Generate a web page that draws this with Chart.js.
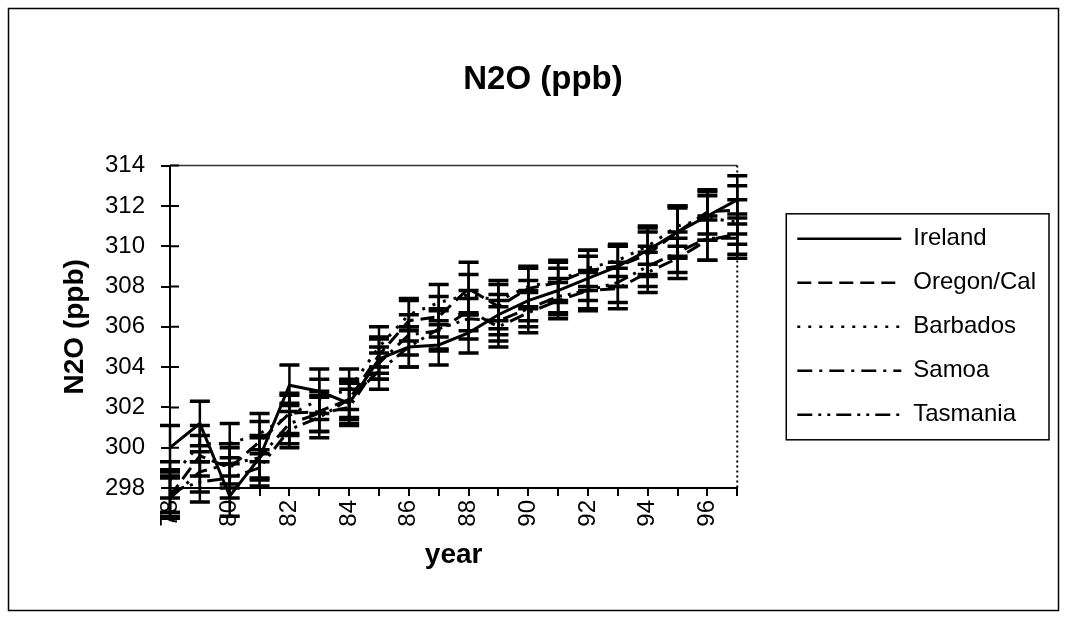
<!DOCTYPE html>
<html>
<head>
<meta charset="utf-8">
<script src="https://cdn.jsdelivr.net/npm/chart.js@4.4.0/dist/chart.umd.min.js"></script>
<style>
  html, body { margin: 0; padding: 0; background: #fff; }
  #wrap { width: 1067px; height: 622px; }
</style>
</head>
<body>
<div id="wrap"><canvas id="n2oChart" width="1067" height="622"></canvas></div>
<script>
const years = ["78", "79", "80", "81", "82", "83", "84", "85", "86", "87",
  "88", "89", "90", "91", "92", "93", "94", "95", "96", "97"];

// N2O (ppb) by station
const ireland  = [300.0, 301.2, 297.6, 299.5, 303.1, 302.8, 302.2, 304.4, 305.0, 305.1,
  305.7, 306.6, 307.3, 307.8, 308.4, 309.0, 309.8, 310.7, 311.5, 312.3];
const oregon   = [297.6, 299.6, 299.0, 300.3, 301.7, 301.8, 302.4, 304.6, 306.3, 306.5,
  307.9, 307.0, 307.9, 308.2, 308.8, 309.0, 309.6, 310.7, 311.7, 311.8];
const barbados = [298.4, 300.2, 300.2, 300.7, 301.6, 302.4, 302.9, 305.0, 306.6, 307.2,
  307.6, 307.3, 308.0, 308.3, 308.9, 309.3, 310.0, 311.0, 311.4, 311.2];
const samoa    = [297.5, 298.8, 299.2, 299.5, 301.2, 301.7, 302.0, 304.2, 305.6, 305.8,
  306.8, 306.0, 306.7, 307.3, 307.8, 307.9, 308.7, 309.4, 310.3, 310.6];
const tasmania = [297.8, 298.3, 298.5, 299.0, 300.9, 301.5, 302.4, 303.8, 305.0, 305.9,
  306.4, 306.3, 306.9, 307.5, 307.8, 308.2, 309.0, 309.7, 310.4, 310.4];

// error bar half-lengths
const irelandErr  = [1.1, 1.1, 1.0, 1.1, 1.0, 1.1, 1.0, 1.0, 1.0, 1.0, 1.0, 1.0, 1.0, 1.1, 1.1, 1.0, 1.2, 1.3, 1.2, 1.2];
const oregonErr   = [1.0, 1.0, 1.0, 1.0, 1.0, 1.0, 1.0, 0.9, 1.0, 1.0, 1.3, 1.1, 1.0, 1.0, 1.0, 1.0, 1.1, 1.2, 1.1, 1.2];
const barbadosErr = [0.9, 0.9, 1.0, 1.0, 1.0, 1.0, 1.0, 1.0, 0.8, 0.9, 1.0, 1.0, 1.0, 1.0, 0.9, 0.8, 0.9, 1.0, 1.1, 1.1];
const samoaErr    = [1.0, 1.0, 1.0, 1.0, 1.0, 0.9, 0.9, 0.8, 1.0, 1.0, 1.0, 1.0, 1.0, 0.9, 0.9, 1.0, 1.0, 1.0, 1.0, 1.0];
const tasmaniaErr = [1.0, 1.0, 1.0, 0.9, 0.9, 1.0, 0.9, 0.9, 1.0, 1.0, 1.0, 1.0, 0.9, 0.9, 1.0, 1.0, 1.0, 1.0, 1.1, 1.0];

const yTicks = [298, 314, 2]; // min, max, step

const FONT = "'Liberation Sans', Arial, sans-serif";

function series(label, data, errors, dash) {
  return {
    label: label,
    data: data,
    errors: errors,
    borderColor: "#000",
    backgroundColor: "#000",
    borderWidth: 3,
    borderDash: dash,
    pointRadius: 0,
    pointStyle: "line",
    fill: false,
    tension: 0,
    clip: false,
  };
}

// error bars drawn through the y scale
const errorBars = {
  id: "errorBars",
  afterDatasetsDraw(chart) {
    const ctx = chart.ctx;
    const yScale = chart.scales.y;
    ctx.save();
    ctx.strokeStyle = "#000";
    ctx.setLineDash([]);
    chart.data.datasets.forEach((ds, i) => {
      const meta = chart.getDatasetMeta(i);
      meta.data.forEach((pt, j) => {
        const top = yScale.getPixelForValue(ds.data[j] + ds.errors[j]);
        const bot = yScale.getPixelForValue(ds.data[j] - ds.errors[j]);
        ctx.lineWidth = 2.5;
        ctx.beginPath();
        ctx.moveTo(pt.x, top);
        ctx.lineTo(pt.x, bot);
        ctx.stroke();
        ctx.lineWidth = 3.5;
        ctx.beginPath();
        ctx.moveTo(pt.x - 10, top);
        ctx.lineTo(pt.x + 10, top);
        ctx.moveTo(pt.x - 10, bot);
        ctx.lineTo(pt.x + 10, bot);
        ctx.stroke();
      });
    });
    ctx.restore();
  },
};

// white background, outer frame, plot border, inner tick marks, legend box
const frame = {
  id: "frame",
  beforeDraw(chart) {
    const ctx = chart.ctx;
    ctx.save();
    ctx.fillStyle = "#fff";
    ctx.fillRect(0, 0, chart.width, chart.height);
    ctx.strokeStyle = "#000";
    ctx.lineWidth = 1.5;
    ctx.strokeRect(8.5, 8.5, chart.width - 17, chart.height - 20);
    const a = chart.chartArea;
    ctx.strokeStyle = "#333";
    ctx.lineWidth = 1.5;
    ctx.beginPath();
    ctx.moveTo(a.left, a.top);
    ctx.lineTo(a.right, a.top);
    ctx.stroke();
    ctx.strokeStyle = "#000";
    ctx.lineWidth = 2;
    ctx.setLineDash([2, 3]);
    ctx.beginPath();
    ctx.moveTo(a.right, a.top);
    ctx.lineTo(a.right, a.bottom);
    ctx.stroke();
    ctx.restore();
  },
  afterDatasetsDraw(chart) {
    const ctx = chart.ctx;
    const a = chart.chartArea;
    const yScale = chart.scales.y;
    ctx.save();
    ctx.strokeStyle = "#000";
    ctx.lineWidth = 2;
    ctx.beginPath();
    yScale.ticks.forEach((t) => {
      const y = yScale.getPixelForValue(t.value);
      ctx.moveTo(a.left, y);
      ctx.lineTo(a.left + 9, y);
    });
    ctx.stroke();
    ctx.restore();
  },
  afterDraw(chart) {
    const boxes = chart.legend.legendHitBoxes;
    if (!boxes || !boxes.length) return;
    const ctx = chart.ctx;
    const first = boxes[0];
    const last = boxes[boxes.length - 1];
    const right = Math.max(...boxes.map(b => b.left + b.width));
    ctx.save();
    ctx.strokeStyle = "#000";
    ctx.lineWidth = 1.5;
    ctx.strokeRect(first.left - 11, first.top - 13, right - first.left + 24, last.top + last.height + 13 - (first.top - 13));
    ctx.restore();
  },
};

new Chart(document.getElementById("n2oChart"), {
  type: "line",
  data: {
    labels: years,
    datasets: [
      series("Ireland", ireland, irelandErr, []),
      series("Oregon/Cal", oregon, oregonErr, [14, 7]),
      series("Barbados", barbados, barbadosErr, [3, 8]),
      series("Samoa", samoa, samoaErr, [15, 7, 3, 7]),
      series("Tasmania", tasmania, tasmaniaErr, [15, 6, 3, 6, 3, 6]),
    ],
  },
  options: {
    responsive: false,
    animation: false,
    layout: { padding: { left: 40, right: 21, top: 0, bottom: 0 } },
    scales: {
      x: {
        type: "category",
        offset: false,
        grid: { drawOnChartArea: false, tickLength: 8, color: "#000", lineWidth: 2 },
        border: { color: "#000", width: 2 },
        ticks: {
          color: "#000",
          font: { family: FONT, size: 24 },
          autoSkip: false,
          minRotation: 90,
          maxRotation: 90,
          padding: 4,
          callback: (v, i) => (i % 2 === 0 ? years[i] : ""),
        },
        title: {
          display: true,
          text: "year",
          color: "#000",
          font: { family: FONT, size: 28, weight: "bold" },
          padding: { top: 0, bottom: 50 },
        },
        afterFit: (s) => { s.height = 134; },
      },
      y: {
        min: yTicks[0],
        max: yTicks[1],
        grid: { drawOnChartArea: false, tickLength: 9, color: "#000", lineWidth: 2 },
        border: { color: "#000", width: 2 },
        ticks: {
          stepSize: yTicks[2],
          color: "#000",
          font: { family: FONT, size: 24 },
          padding: 16,
        },
        title: {
          display: true,
          text: "N2O (ppb)",
          color: "#000",
          font: { family: FONT, size: 28, weight: "bold" },
          padding: { top: 18, bottom: 0 },
        },
        afterFit: (s) => { s.width = 130; },
      },
      yR: {
        type: "linear",
        axis: "y",
        position: "right",
        grid: { display: false },
        border: { display: false },
        ticks: { display: false },
        afterFit: (s) => { s.width = 40; },
      },
    },
    plugins: {
      title: {
        display: true,
        text: "N2O (ppb)",
        color: "#000",
        font: { family: FONT, size: 33, weight: "bold" },
        padding: { top: 60, bottom: 66 },
      },
      legend: {
        position: "right",
        fullSize: false,
        maxWidth: 400,
        labels: {
          usePointStyle: true,
          pointStyle: "line",
          pointStyleWidth: 104,
          padding: 20,
          color: "#000",
          font: { family: FONT, size: 24 },
          generateLabels: (chart) =>
            Chart.defaults.plugins.legend.labels.generateLabels(chart).map((item, i) => ({
              ...item,
              lineDash: chart.data.datasets[i].borderDash,
              lineWidth: 2.5,
            })),
        },
      },
      tooltip: { enabled: false },
    },
  },
  plugins: [errorBars, frame],
});
</script>
</body>
</html>
